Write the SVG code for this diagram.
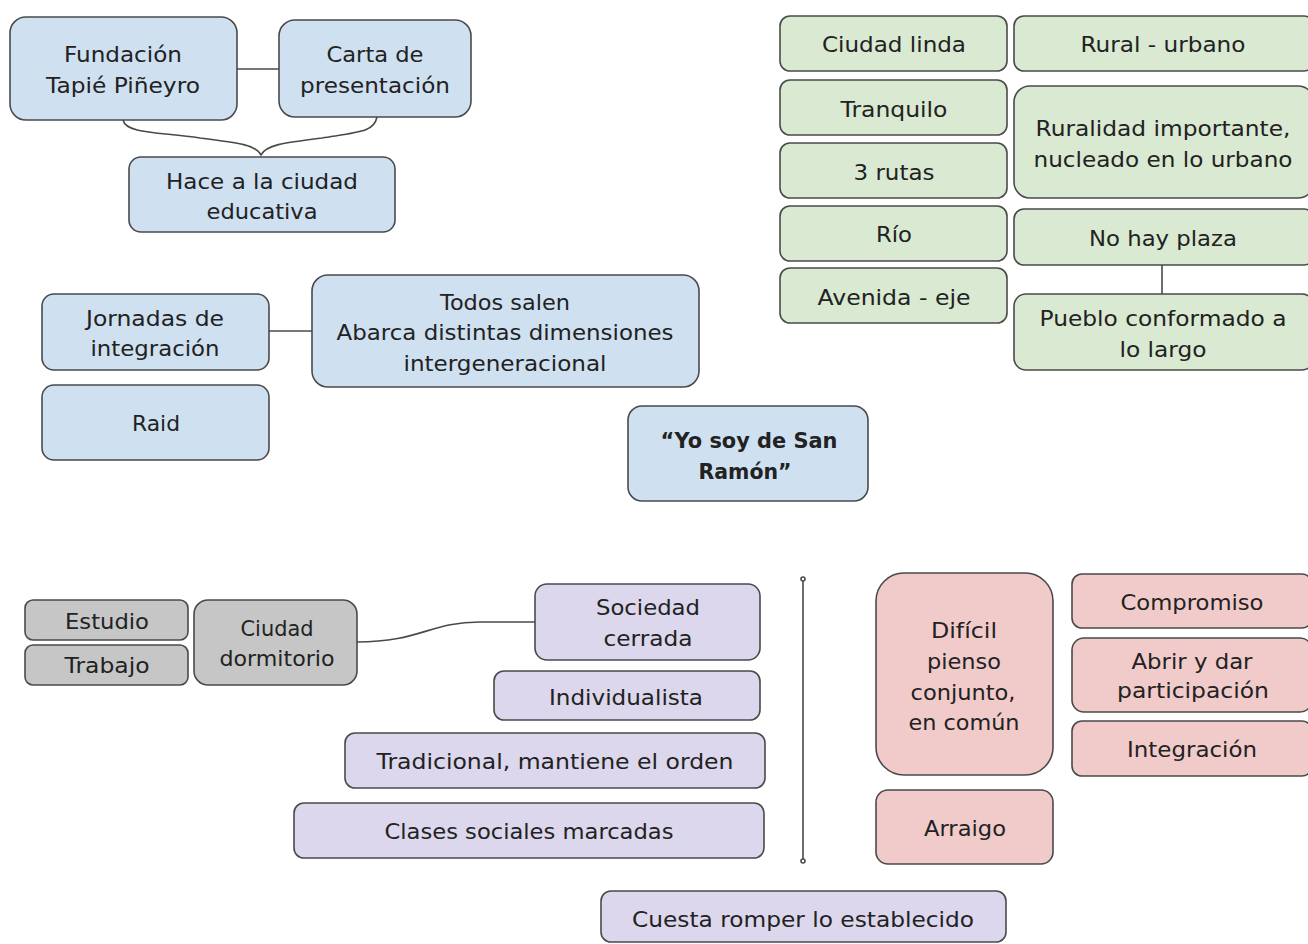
<svg xmlns="http://www.w3.org/2000/svg" width="1308" height="944" viewBox="0 0 1308 944">
<style>
rect{stroke:#4a4a4a;stroke-width:1.6}
.b{fill:#cfe0f1}.g{fill:#d9e9d2}.k{fill:#c6c6c6}.p{fill:#dcd7ec}.r{fill:#f1caca}
text{font-family:"DejaVu Sans","Liberation Sans",sans-serif;font-size:22px;fill:#222;text-anchor:middle}
.bold{font-weight:bold}
.c{stroke:#4a4a4a;stroke-width:1.6;fill:none}
</style>
<rect width="1308" height="944" fill="#ffffff" style="stroke:none"/>
<g id="connectors">
<line class="c" x1="237" y1="69" x2="279" y2="69"/>
<path class="c" d="M123,120 C126,134 160,132 200,138 C240,143 256,145 261,155 C266,145 282,143 322,138 C360,132 374,132 377,117"/>
<line class="c" x1="269" y1="331" x2="312" y2="331"/>
<line class="c" x1="1162" y1="265" x2="1162" y2="294"/>
<path class="c" d="M357,642 C420,642 430,622 480,622 L535,622"/>
<line class="c" x1="803" y1="580" x2="803" y2="860"/>
<circle class="c" cx="803" cy="579" r="2" style="fill:#fff"/>
<circle class="c" cx="803" cy="861" r="2" style="fill:#fff"/>
</g>
<g id="n1"><rect class="b" x="10" y="17" width="227" height="103" rx="16"/><text x="123" y="62" textLength="118" lengthAdjust="spacingAndGlyphs">Fundación</text><text x="123" y="93" textLength="154" lengthAdjust="spacingAndGlyphs">Tapié Piñeyro</text></g>
<g id="n2"><rect class="b" x="279" y="20" width="192" height="97" rx="16"/><text x="375" y="62" textLength="97" lengthAdjust="spacingAndGlyphs">Carta de</text><text x="375" y="93" textLength="150" lengthAdjust="spacingAndGlyphs">presentación</text></g>
<g id="n3"><rect class="b" x="129" y="157" width="266" height="75" rx="12"/><text x="262" y="189" textLength="192" lengthAdjust="spacingAndGlyphs">Hace a la ciudad</text><text x="262" y="219" textLength="111" lengthAdjust="spacingAndGlyphs">educativa</text></g>
<g id="n4"><rect class="b" x="42" y="294" width="227" height="76" rx="12"/><text x="155" y="326" textLength="138" lengthAdjust="spacingAndGlyphs">Jornadas de</text><text x="155" y="356" textLength="129" lengthAdjust="spacingAndGlyphs">integración</text></g>
<g id="n5"><rect class="b" x="312" y="275" width="387" height="112" rx="16"/><text x="505" y="310" textLength="130" lengthAdjust="spacingAndGlyphs">Todos salen</text><text x="505" y="340" textLength="337" lengthAdjust="spacingAndGlyphs">Abarca distintas dimensiones</text><text x="505" y="371" textLength="203" lengthAdjust="spacingAndGlyphs">intergeneracional</text></g>
<g id="n6"><rect class="b" x="42" y="385" width="227" height="75" rx="12"/><text x="156" y="431" textLength="48" lengthAdjust="spacingAndGlyphs">Raid</text></g>
<g id="n7"><rect class="b" x="628" y="406" width="240" height="95" rx="14"/><text class="bold" x="749" y="448" textLength="177" lengthAdjust="spacingAndGlyphs">“Yo soy de San</text><text class="bold" x="745" y="479" textLength="93" lengthAdjust="spacingAndGlyphs">Ramón”</text></g>
<g id="g1"><rect class="g" x="780" y="16" width="227" height="55" rx="10"/><text x="894" y="52" textLength="144" lengthAdjust="spacingAndGlyphs">Ciudad linda</text></g>
<g id="g2"><rect class="g" x="780" y="80" width="227" height="55" rx="10"/><text x="894" y="117" textLength="107" lengthAdjust="spacingAndGlyphs">Tranquilo</text></g>
<g id="g3"><rect class="g" x="780" y="143" width="227" height="55" rx="10"/><text x="894" y="180" textLength="81" lengthAdjust="spacingAndGlyphs">3 rutas</text></g>
<g id="g4"><rect class="g" x="780" y="206" width="227" height="55" rx="10"/><text x="894" y="242" textLength="36" lengthAdjust="spacingAndGlyphs">Río</text></g>
<g id="g5"><rect class="g" x="780" y="268" width="227" height="55" rx="10"/><text x="894" y="305" textLength="153" lengthAdjust="spacingAndGlyphs">Avenida - eje</text></g>
<g id="g6"><rect class="g" x="1014" y="16" width="300" height="55" rx="10"/><text x="1163" y="52" textLength="165" lengthAdjust="spacingAndGlyphs">Rural - urbano</text></g>
<g id="g7"><rect class="g" x="1014" y="86" width="300" height="112" rx="16"/><text x="1163" y="136" textLength="255" lengthAdjust="spacingAndGlyphs">Ruralidad importante,</text><text x="1163" y="167" textLength="259" lengthAdjust="spacingAndGlyphs">nucleado en lo urbano</text></g>
<g id="g8"><rect class="g" x="1014" y="209" width="300" height="56" rx="10"/><text x="1163" y="246" textLength="148" lengthAdjust="spacingAndGlyphs">No hay plaza</text></g>
<g id="g9"><rect class="g" x="1014" y="294" width="300" height="76" rx="12"/><text x="1163" y="326" textLength="247" lengthAdjust="spacingAndGlyphs">Pueblo conformado a</text><text x="1163" y="357" textLength="87" lengthAdjust="spacingAndGlyphs">lo largo</text></g>
<g id="k1"><rect class="k" x="25" y="600" width="163" height="40" rx="8"/><text x="107" y="629" textLength="84" lengthAdjust="spacingAndGlyphs">Estudio</text></g>
<g id="k2"><rect class="k" x="25" y="645" width="163" height="40" rx="8"/><text x="107" y="673" textLength="85" lengthAdjust="spacingAndGlyphs">Trabajo</text></g>
<g id="k3"><rect class="k" x="194" y="600" width="163" height="85" rx="14"/><text x="277" y="636" textLength="73" lengthAdjust="spacingAndGlyphs">Ciudad</text><text x="277" y="666" textLength="115" lengthAdjust="spacingAndGlyphs">dormitorio</text></g>
<g id="p1"><rect class="p" x="535" y="584" width="225" height="76" rx="12"/><text x="648" y="615" textLength="104" lengthAdjust="spacingAndGlyphs">Sociedad</text><text x="648" y="646" textLength="89" lengthAdjust="spacingAndGlyphs">cerrada</text></g>
<g id="p2"><rect class="p" x="494" y="671" width="266" height="49" rx="10"/><text x="626" y="705" textLength="154" lengthAdjust="spacingAndGlyphs">Individualista</text></g>
<g id="p3"><rect class="p" x="345" y="733" width="420" height="55" rx="10"/><text x="555" y="769" textLength="357" lengthAdjust="spacingAndGlyphs">Tradicional, mantiene el orden</text></g>
<g id="p4"><rect class="p" x="294" y="803" width="470" height="55" rx="10"/><text x="529" y="839" textLength="289" lengthAdjust="spacingAndGlyphs">Clases sociales marcadas</text></g>
<g id="p5"><rect class="p" x="601" y="891" width="405" height="51" rx="10"/><text x="803" y="927" textLength="342" lengthAdjust="spacingAndGlyphs">Cuesta romper lo establecido</text></g>
<g id="r1"><rect class="r" x="876" y="573" width="177" height="202" rx="28"/><text x="964" y="638" textLength="66" lengthAdjust="spacingAndGlyphs">Difícil</text><text x="964" y="669" textLength="74" lengthAdjust="spacingAndGlyphs">pienso</text><text x="963" y="700" textLength="105" lengthAdjust="spacingAndGlyphs">conjunto,</text><text x="964" y="730" textLength="111" lengthAdjust="spacingAndGlyphs">en común</text></g>
<g id="r2"><rect class="r" x="876" y="790" width="177" height="74" rx="12"/><text x="965" y="836" textLength="82" lengthAdjust="spacingAndGlyphs">Arraigo</text></g>
<g id="r3"><rect class="r" x="1072" y="574" width="240" height="54" rx="10"/><text x="1192" y="610" textLength="143" lengthAdjust="spacingAndGlyphs">Compromiso</text></g>
<g id="r4"><rect class="r" x="1072" y="638" width="240" height="74" rx="12"/><text x="1192" y="669" textLength="121" lengthAdjust="spacingAndGlyphs">Abrir y dar</text><text x="1193" y="698" textLength="152" lengthAdjust="spacingAndGlyphs">participación</text></g>
<g id="r5"><rect class="r" x="1072" y="721" width="240" height="55" rx="10"/><text x="1192" y="757" textLength="130" lengthAdjust="spacingAndGlyphs">Integración</text></g>
</svg>
